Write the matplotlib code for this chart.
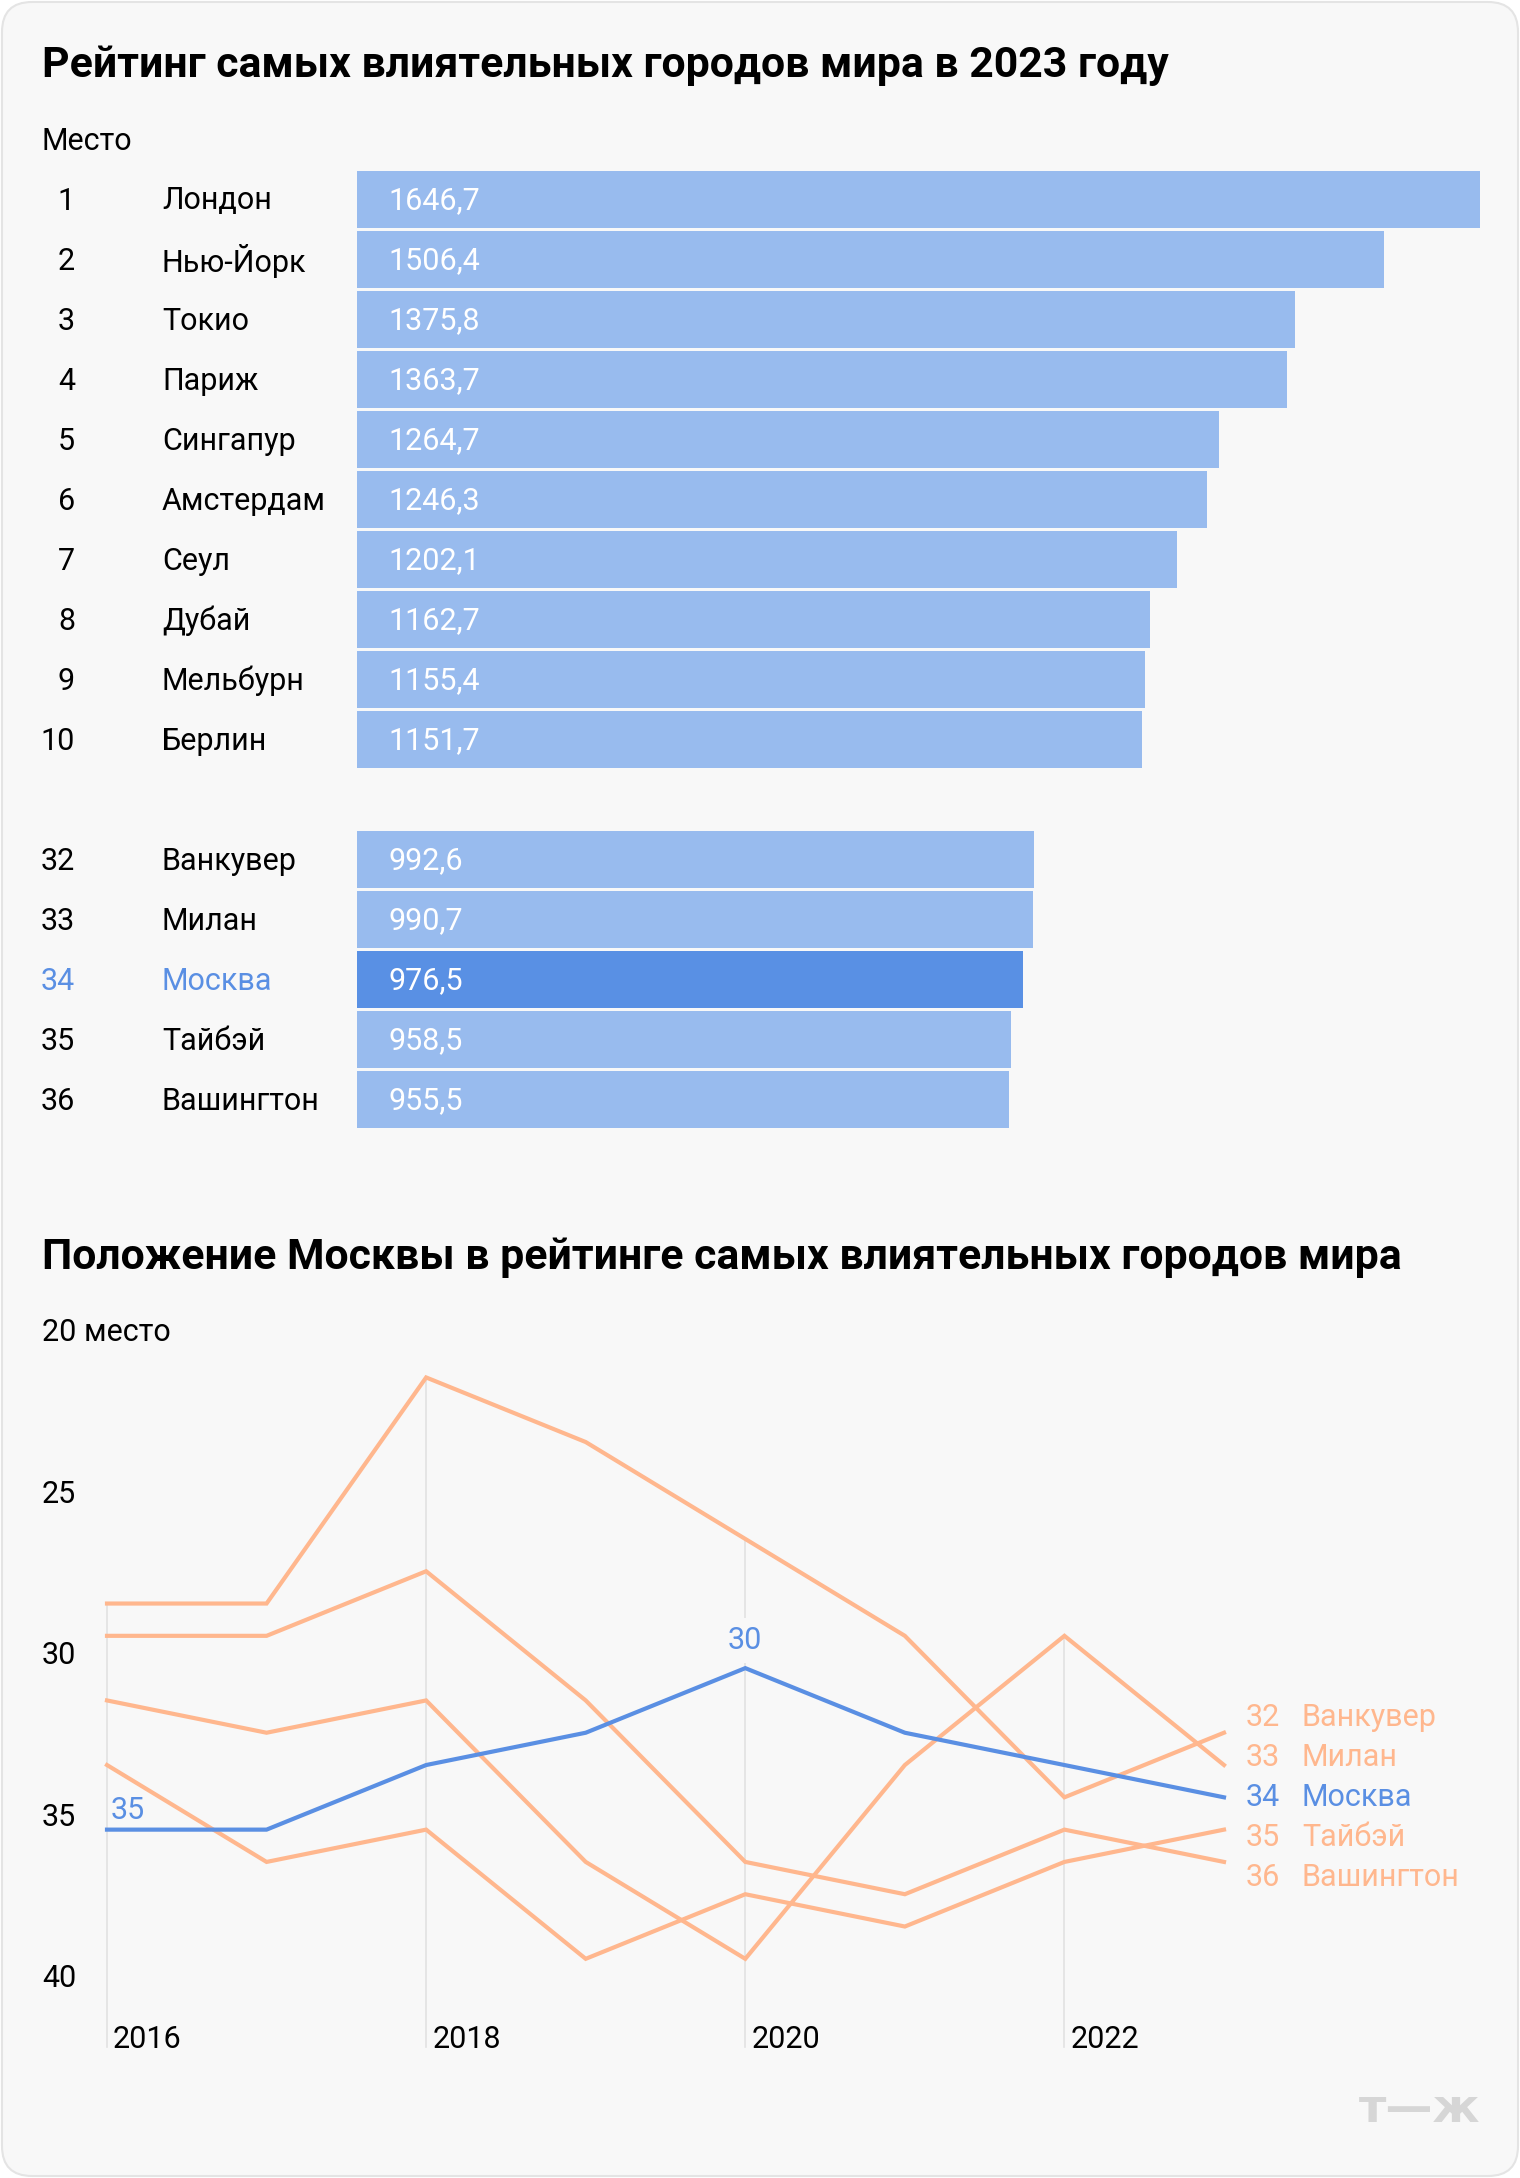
import matplotlib
matplotlib.use('Agg')
import matplotlib.pyplot as plt
from matplotlib.patches import FancyBboxPatch

plt.rcParams['font.family'] = ['Roboto', 'DejaVu Sans']

# ---------------- data ----------------
title_top = 'Рейтинг самых влиятельных городов мира в 2023 году'
title_bottom = 'Положение Москвы в рейтинге самых влиятельных городов мира'

ranks_top = [1, 2, 3, 4, 5, 6, 7, 8, 9, 10]
cities_top = ['Лондон', 'Нью-Йорк', 'Токио', 'Париж', 'Сингапур',
              'Амстердам', 'Сеул', 'Дубай', 'Мельбурн', 'Берлин']
scores_top = [1646.7, 1506.4, 1375.8, 1363.7, 1264.7,
              1246.3, 1202.1, 1162.7, 1155.4, 1151.7]

ranks_mid = [32, 33, 34, 35, 36]
cities_mid = ['Ванкувер', 'Милан', 'Москва', 'Тайбэй', 'Вашингтон']
scores_mid = [992.6, 990.7, 976.5, 958.5, 955.5]
highlight = 'Москва'

years = [2016, 2017, 2018, 2019, 2020, 2021, 2022, 2023]
moscow = [35, 35, 33, 32, 30, 32, 33, 34]
vancouver = [28, 28, 21, 23, 26, 29, 34, 32]
milan = [31, 32, 31, 36, 39, 33, 29, 33]
taipei = [33, 36, 35, 39, 37, 38, 36, 35]
washington = [29, 29, 27, 31, 36, 37, 35, 36]
year_ticks = [2016, 2018, 2020, 2022]
rank_ticks = [20, 25, 30, 35, 40]

# ---------------- style ----------------
W, H = 1520, 2178
BG = '#f8f8f8'
BAR = '#98bbee'
BAR_HI = '#5990e4'
BLUE = '#5a8fe3'
ORANGE = '#ffb78e'
GRID = '#e2e2e2'
TXT = '#000000'
FS = 22
FS_T = 30.8

fig = plt.figure(figsize=(W / 100, H / 100), dpi=100)
fig.patch.set_facecolor('#ffffff')


def rect(left, top, right, bottom):
    return [left / W, 1 - bottom / H, (right - left) / W, (bottom - top) / H]


bg = fig.add_axes([0, 0, 1, 1])
bg.set_xlim(0, W)
bg.set_ylim(H, 0)
bg.axis('off')
bg.add_patch(FancyBboxPatch((2, 2), W - 4, H - 4,
                            boxstyle='round,pad=0,rounding_size=30',
                            fc=BG, ec='#e4e4e4', lw=1.5))
bg.text(42, 66, title_top, fontsize=FS_T, fontweight='bold', va='center', color=TXT)
bg.text(42, 142, 'Место', fontsize=FS, va='center', color=TXT)
bg.text(42, 1257, title_bottom, fontsize=FS_T, fontweight='bold', va='center', color=TXT)
bg.text(1420, 2109, 'т—ж', fontsize=34, fontweight='bold', va='center', ha='center',
        color='#d6d6d6', family=['DejaVu Sans'])

# ---------------- bar chart ----------------
BL, BR = 357, 1480
ax1 = fig.add_axes(rect(BL, 169, BR, 1129))
ax1.set_facecolor('none')
ax1.axis('off')
ranks = ranks_top + ranks_mid
cities = cities_top + cities_mid
scores = scores_top + scores_mid
pos = list(range(len(ranks_top))) + [len(ranks_top) + 1 + i for i in range(len(ranks_mid))]
colors = [BAR_HI if c == highlight else BAR for c in cities]
ax1.barh(pos, scores, height=0.95, color=colors, lw=0)
ax1.set_xlim(0, max(scores))
ax1.set_ylim(pos[-1] + 0.5, -0.5)


def bx(px):
    return (px - BL) / (BR - BL)


tr1 = ax1.get_yaxis_transform()
for p, r, c, s in zip(pos, ranks, cities, scores):
    col = BLUE if c == highlight else TXT
    ax1.annotate(str(r), (bx(75), p), xycoords=tr1, xytext=(0, -2),
                 textcoords='offset pixels', ha='right', va='center',
                 fontsize=FS, color=col, annotation_clip=False)
    ax1.annotate(c, (bx(162), p), xycoords=tr1, xytext=(0, -2),
                 textcoords='offset pixels', ha='left', va='center',
                 fontsize=FS, color=col, annotation_clip=False)
    ax1.annotate(f'{s:.1f}'.replace('.', ','), (bx(388), p), xycoords=tr1,
                 xytext=(0, -2), textcoords='offset pixels', ha='left',
                 va='center', fontsize=FS, color='white')

# ---------------- line chart ----------------
LL, LR, LT, LB = 107, 1224, 1329, 2047
ax2 = fig.add_axes(rect(LL, LT, LR, LB))
ax2.set_facecolor('none')
ax2.axis('off')
ax2.set_xlim(years[0], years[-1])
ax2.set_ylim(41.73, 19.5)

others = [('Ванкувер', vancouver), ('Милан', milan), ('Тайбэй', taipei),
          ('Вашингтон', washington)]
all_series = [s for _, s in others] + [moscow]
for yr in year_ticks:
    i = years.index(yr)
    top = min(s[i] for s in all_series)
    ax2.plot([yr, yr], [top, 41.73], color=GRID, lw=1.2, zorder=1, clip_on=False)

for name, s in others:
    ax2.plot(years, s, color=ORANGE, lw=3, zorder=2, clip_on=False,
             solid_joinstyle='miter')
ax2.plot(years, moscow, color=BLUE, lw=3, zorder=3, clip_on=False,
         solid_joinstyle='miter')


def lx(px):
    return (px - LL) / (LR - LL)


tr2 = ax2.get_yaxis_transform()
for r in rank_ticks:
    lab = f'{r} место' if r == rank_ticks[0] else str(r)
    ax2.annotate(lab, (lx(42), r), xycoords=tr2, xytext=(0, 4),
                 textcoords='offset pixels', ha='left', va='baseline',
                 fontsize=FS, color=TXT)

trx = ax2.get_xaxis_transform()
for yr in year_ticks:
    ax2.annotate(str(yr), (yr, 0), xycoords=trx, xytext=(6, 7),
                 textcoords='offset pixels', ha='left', va='center',
                 fontsize=FS, color=TXT)

# Moscow value labels
ax2.annotate(str(moscow[0]), (years[0], moscow[0]), xytext=(4, 11),
             textcoords='offset pixels', ha='left', va='baseline',
             fontsize=FS, color=BLUE)
imax = moscow.index(min(moscow))
ax2.annotate(str(moscow[imax]), (years[imax], moscow[imax]), xytext=(0, 19),
             textcoords='offset pixels', ha='center', va='baseline',
             fontsize=FS, color=BLUE, zorder=4,
             bbox=dict(boxstyle='square,pad=0.25', fc=BG, ec='none'))

# end labels
end_items = [(v[-1], n, ORANGE) for n, v in others] + [(moscow[-1], highlight, BLUE)]
end_items.sort()
step = 40 / 32.3
for k, (r, n, col) in enumerate(end_items):
    y = moscow[-1] + (k - 2) * step
    ax2.annotate(str(r), (lx(1246), y), xycoords=tr2, xytext=(0, 0),
                 textcoords='offset pixels', ha='left', va='center',
                 fontsize=FS, color=col, annotation_clip=False)
    ax2.annotate(n, (lx(1302), y), xycoords=tr2, xytext=(0, 0),
                 textcoords='offset pixels', ha='left', va='center',
                 fontsize=FS, color=col, annotation_clip=False)

fig.savefig('out.png', dpi=100, facecolor=fig.get_facecolor())
